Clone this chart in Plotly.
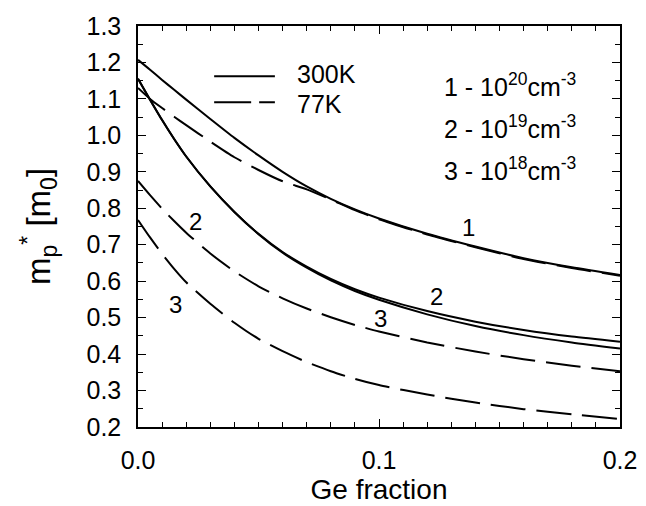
import plotly.graph_objects as go

# Ge fraction grid
ge = [0, 0.005, 0.01, 0.015, 0.02, 0.03, 0.04, 0.05, 0.06, 0.07, 0.08, 0.09,
      0.10, 0.12, 0.14, 0.16, 0.18, 0.20]

# 300K curves
m300_1e20 = [1.207, 1.180, 1.152, 1.125, 1.098, 1.045, 0.993, 0.945, 0.900, 0.860,
             0.826, 0.797, 0.772, 0.730, 0.695, 0.663, 0.638, 0.617]
m300_1e19 = [1.155, 1.098, 1.042, 0.990, 0.942, 0.860, 0.790, 0.730, 0.680, 0.640,
             0.606, 0.578, 0.555, 0.518, 0.489, 0.466, 0.448, 0.434]
m300_1e18 = [1.155, 1.098, 1.042, 0.990, 0.942, 0.860, 0.790, 0.729, 0.678, 0.637,
             0.602, 0.573, 0.549, 0.509, 0.477, 0.452, 0.432, 0.415]
# 77K curves
m77_1e20 = [1.130, 1.100, 1.075, 1.051, 1.028, 0.983, 0.940, 0.905, 0.874, 0.852,
            0.824, 0.795, 0.770, 0.728, 0.693, 0.661, 0.636, 0.615]
m77_1e19 = [0.875, 0.836, 0.799, 0.765, 0.733, 0.676, 0.627, 0.586, 0.553, 0.525,
            0.501, 0.480, 0.462, 0.432, 0.407, 0.386, 0.368, 0.353]
m77_1e18 = [0.768, 0.720, 0.675, 0.634, 0.597, 0.538, 0.486, 0.442, 0.408, 0.378,
            0.353, 0.332, 0.315, 0.289, 0.267, 0.249, 0.235, 0.222]

x_ticks = [0.0, 0.1, 0.2]
y_ticks = [0.2, 0.3, 0.4, 0.5, 0.6, 0.7, 0.8, 0.9, 1.0, 1.1, 1.2, 1.3]

# curve labels: (text, x, y)
curve_labels = [("1", 0.137, 0.746), ("2", 0.1237, 0.559), ("3", 0.1008, 0.499),
                ("2", 0.0237, 0.765), ("3", 0.0154, 0.535)]
conc_labels = ["1 - 10<sup>20</sup>cm<sup>-3</sup>",
               "2 - 10<sup>19</sup>cm<sup>-3</sup>",
               "3 - 10<sup>18</sup>cm<sup>-3</sup>"]
legend_labels = ["300K", "77K"]

FONT = "Liberation Sans, Arial, sans-serif"
DASH = "35px,11px"

fig = go.Figure()
series = [
    (m300_1e20, "solid"), (m300_1e19, "solid"), (m300_1e18, "solid"),
    (m77_1e20, DASH), (m77_1e19, DASH), (m77_1e18, DASH),
]
for ys, dash in series:
    fig.add_trace(go.Scatter(x=ge, y=ys, mode="lines",
                             line=dict(color="black", width=2, dash=dash, shape="spline", smoothing=0.6),
                             showlegend=False, hoverinfo="skip"))

for txt, xx, yy in curve_labels:
    fig.add_annotation(x=xx, y=yy, xref="x", yref="y", text=txt, showarrow=False,
                       font=dict(size=24, color="black", family=FONT))

# legend (drawn manually)
fig.add_shape(type="line", xref="paper", yref="paper", x0=0.158, x1=0.284, y0=0.875, y1=0.875,
              line=dict(color="black", width=2))
fig.add_shape(type="line", xref="paper", yref="paper", x0=0.158, x1=0.284, y0=0.810, y1=0.810,
              line=dict(color="black", width=2, dash="37px,8px"))
fig.add_annotation(xref="paper", yref="paper", x=0.328, y=0.843, text=legend_labels[0], showarrow=False,
                   xanchor="left", yanchor="bottom", borderpad=0,
                   font=dict(size=25, color="black", family=FONT))
fig.add_annotation(xref="paper", yref="paper", x=0.328, y=0.843, text=legend_labels[1], showarrow=False,
                   xanchor="left", yanchor="top", borderpad=0,
                   font=dict(size=25, color="black", family=FONT))
for i, t in enumerate(conc_labels):
    fig.add_annotation(xref="paper", yref="paper", x=0.633, y=0.853 - i * 0.105, text=t,
                       showarrow=False, xanchor="left", yanchor="middle", borderpad=0,
                       font=dict(size=25, color="black", family=FONT))

axis_common = dict(showline=True, linecolor="black", linewidth=1.5, mirror="ticks",
                   ticks="inside", ticklen=8, tickwidth=1.3, tickcolor="black",
                   showgrid=False, zeroline=False, automargin=False,
                   tickfont=dict(size=25, color="black", family=FONT))

fig.update_xaxes(range=[0, 0.2], tickvals=x_ticks, ticktext=[f"{v:.1f}" for v in x_ticks],
                 minor=dict(dtick=0.01, tick0=0, ticks="inside", ticklen=5, tickwidth=1.2, tickcolor="black"),
                 title=dict(text="Ge fraction", font=dict(size=28, color="black", family=FONT), standoff=4),
                 ticklabelstandoff=10, **axis_common)
fig.update_yaxes(range=[0.2, 1.3], tickvals=y_ticks, ticktext=[f"{v:.1f}" for v in y_ticks],
                 minor=dict(dtick=0.05, tick0=0.2, ticks="inside", ticklen=5, tickwidth=1.2, tickcolor="black"),
                 title=dict(text="m<sub>p</sub><sup>*</sup> [m<sub>0</sub>]",
                            font=dict(size=33, color="black", family=FONT), standoff=26),
                 ticklabelstandoff=10, **axis_common)

fig.update_layout(width=646, height=506, margin=dict(l=130, r=34, t=18, b=87, autoexpand=False),
                  plot_bgcolor="white", paper_bgcolor="white")

fig.write_html("out.html")
